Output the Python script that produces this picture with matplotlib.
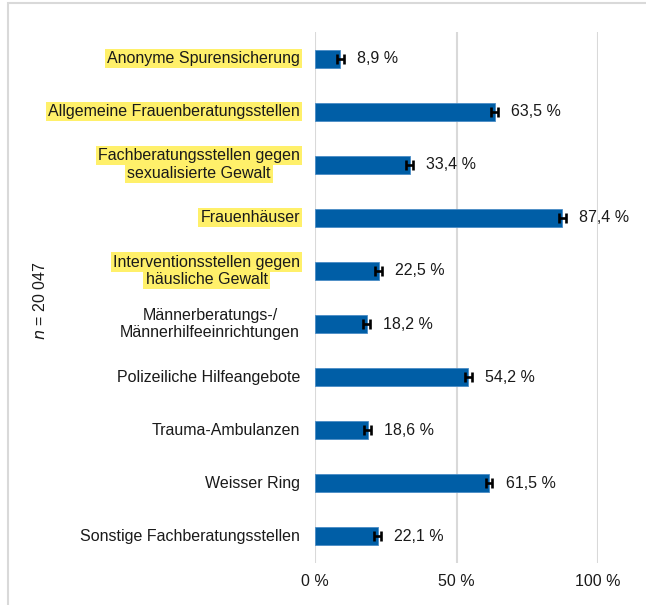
import matplotlib
matplotlib.use("Agg")
import matplotlib.pyplot as plt
from matplotlib.patches import Rectangle
import numpy as np

plt.rcParams['font.family'] = ['Liberation Sans', 'DejaVu Sans']

# categories, top to bottom (lines of each label)
categories = [
    ["Anonyme Spurensicherung"],
    ["Allgemeine Frauenberatungsstellen"],
    ["Fachberatungsstellen gegen", "sexualisierte Gewalt"],
    ["Frauenhäuser"],
    ["Interventionsstellen gegen", "häusliche Gewalt"],
    ["Männerberatungs-/", "Männerhilfeeinrichtungen"],
    ["Polizeiliche Hilfeangebote"],
    ["Trauma-Ambulanzen"],
    ["Weisser Ring"],
    ["Sonstige Fachberatungsstellen"],
]
values = [8.9, 63.5, 33.4, 87.4, 22.5, 18.2, 54.2, 18.6, 61.5, 22.1]
errors = [1.2, 1.2, 1.2, 1.2, 1.2, 1.2, 1.2, 1.2, 1.2, 1.2]
highlighted = [True, True, True, True, True, False, False, False, False, False]
x_ticks = [0, 50, 100]
x_ticklabels = ["0 %", "50 %", "100 %"]
n_text = "$n$ = 20 047"

BAR = '#005EA6'
GRID = '#D9D9D9'
HILITE = '#FFF06A'
TXT = '#1a1a1a'
FS = 11.5

W, H = 646, 605
fig = plt.figure(figsize=(W / 100, H / 100), dpi=100)
ax = fig.add_axes([315 / W, 1 - 563 / H, 283 / W, 531 / H])

y = np.arange(len(values))
ax.barh(y, values, height=0.34, color=BAR, edgecolor='#4a8cc6', linewidth=0.6, zorder=3)
ax.errorbar(values, y, xerr=errors, fmt='none', ecolor='black', elinewidth=1.9,
            capsize=3.8, capthick=1.9, zorder=4)

for yi, v in zip(y, values):
    ax.annotate(f"{v:.1f} %".replace('.', ','), xy=(v, yi), xytext=(12, 0),
                textcoords='offset points', va='center', ha='left', fontsize=FS, color=TXT)

ax.set_xlim(0, 100)
ax.set_ylim(len(values) - 0.5, -0.5)
ax.set_xticks(x_ticks)
ax.set_xticklabels(x_ticklabels, fontsize=FS, color=TXT)
ax.set_yticks([])
ax.tick_params(axis='x', length=0, pad=8)
ax.grid(axis='x', color=GRID, linewidth=1.5, zorder=0)
for s in ax.spines.values():
    s.set_visible(False)

# category labels: lines centered against each other, block right-aligned
fig.canvas.draw()
renderer = fig.canvas.get_renderer()
ax_box = ax.get_window_extent(renderer)
right_px = ax_box.x0 - 15
line_off = 6.4
for yi, lines, hl in zip(y, categories, highlighted):
    texts = []
    offs = [0] if len(lines) == 1 else [line_off, -line_off]
    for line, dy in zip(lines, offs):
        kw = {}
        if hl:
            kw['bbox'] = dict(boxstyle='square,pad=0.13', facecolor=HILITE, edgecolor='none')
        t = ax.annotate(line, xy=(0, yi), xycoords=ax.get_yaxis_transform(),
                        xytext=(0, dy), textcoords='offset points',
                        ha='center', va='center', fontsize=FS, color=TXT,
                        annotation_clip=False, **kw)
        texts.append(t)
    widths = [t.get_window_extent(renderer).width for t in texts]
    block_w = max(widths)
    cx = (right_px - block_w / 2 - ax_box.x0) / ax_box.width
    for t in texts:
        t.xy = (cx, yi)

fig.text(40 / W, 1 - 301 / H, n_text, rotation=90, ha='center', va='center',
         fontsize=FS, color=TXT)

# frame around the chart area
fig.add_artist(Rectangle((8 / W, -0.1), 1.2, 1.1 - 3 / H, transform=fig.transFigure,
                         fill=False, edgecolor=GRID, linewidth=1.5, clip_on=False))

fig.savefig("out.png", dpi=100)
